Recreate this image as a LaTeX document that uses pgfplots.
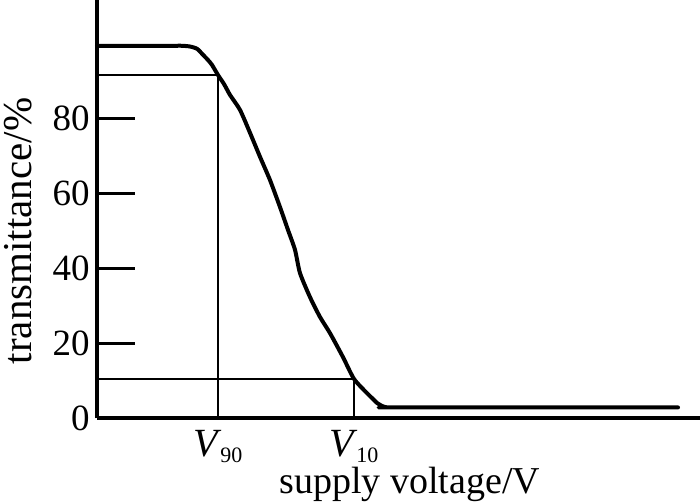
\documentclass[border=0pt]{standalone}
\usepackage{fontspec}
\setmainfont{Liberation Serif}
\usepackage{pgfplots}
\pgfplotsset{compat=1.18}
\begin{document}
\begin{tikzpicture}
\begin{axis}[
  anchor=south west, at={(0pt,0pt)},
  scale only axis, width=301.5pt, height=209.15pt,
  xmin=0, xmax=60.3, ymin=0, ymax=111.5,
  clip=false,
  axis lines=left, axis line style={-, line width=2pt},
  /pgf/number format/assume math mode=true,
  ytick={0,20,40,60,80},
  ytick style={line width=1.6pt, black},
  tick align=inside, major tick length=19pt,
  yticklabel style={anchor=east, inner sep=0pt, xshift=-3.5pt, font=\fontsize{18.5}{20}\selectfont},
  xtick={12.1,25.7},
  xticklabels={{\textit{V}\kern-0.8pt\raisebox{-3pt}{\fontsize{11}{11}\selectfont 90}},{\textit{V}\kern-0.8pt\raisebox{-3pt}{\fontsize{11}{11}\selectfont 10}}},
  xtick style={draw=none},
  xticklabel style={anchor=north, inner sep=0pt, yshift=-6pt, font=\fontsize{20}{22}\selectfont},
  xlabel={supply voltage/V},
  xlabel style={at={(axis description cs:0.519,0)}, anchor=base, yshift=-37.4pt, inner sep=0pt, font=\fontsize{19}{21}\selectfont},
  ylabel={transmittance/\%},
  ylabel style={at={(axis description cs:0,0.448)}, anchor=base, yshift=32.5pt, inner sep=0pt, font=\fontsize{20.5}{22}\selectfont},
]
\addplot[black, line width=2pt, line join=round, line cap=round, smooth, tension=0.4] coordinates {
(0,99.3) (7.5,99.3) (8.5,99.3) (9.3,99.1) (10.0,98.5) (10.6,96.9) (11.1,95.5)
(11.5,94.2) (12.1,91.5) (12.7,89.1) (13.3,86.2) (14.3,82.2) (15.3,76.1)
(16.3,69.7) (17.3,63.5) (18.3,56.3) (19.1,50.2) (19.8,44.9) (20.3,38.7)
(21.3,32.3) (22.3,27.0) (23.3,22.7) (24.6,16.3) (25.7,10.5) (27.0,6.7)
(27.5,5.4) (28.0,4.1) (28.5,3.3) (29.0,2.9) (29.8,2.9) (58.1,2.9)
};
\addplot[black, line width=1.2pt] coordinates {(0,91.5) (12.1,91.5) (12.1,0)};
\addplot[black, line width=1.2pt] coordinates {(0,10.5) (25.7,10.5) (25.7,0)};
\end{axis}
\pgfresetboundingbox
\path[use as bounding box] (-48.5pt,-42.35pt) rectangle (301.5pt,209.15pt);
\end{tikzpicture}
\end{document}
